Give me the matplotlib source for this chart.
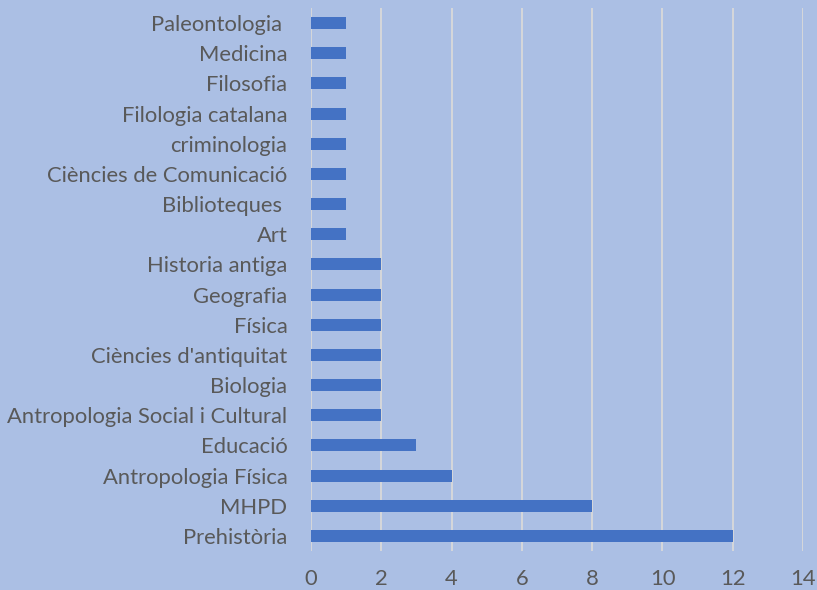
import matplotlib.pyplot as plt

# Dades (de baix a dalt)
categories = ["Prehistòria", "MHPD", "Antropologia Física", "Educació",
              "Antropologia Social i Cultural", "Biologia", "Ciències d'antiquitat",
              "Física", "Geografia", "Historia antiga", "Art", "Biblioteques ",
              "Ciències de Comunicació", "criminologia", "Filologia catalana",
              "Filosofia", "Medicina", "Paleontologia "]
valors = [12, 8, 4, 3, 2, 2, 2, 2, 2, 2, 1, 1, 1, 1, 1, 1, 1, 1]
xticks = [0, 2, 4, 6, 8, 10, 12, 14]

bg = "#ABBFE4"
text_color = "#595959"

plt.rcParams["font.family"] = ["Lato", "DejaVu Sans"]

fig = plt.figure(figsize=(8.17, 5.90), dpi=100, facecolor=bg)
ax = fig.add_axes([0.3807, 0.0661, 0.6022, 0.9203])
ax.set_facecolor(bg)

ax.barh(range(len(categories)), valors, height=0.4, color="#4472C4", zorder=3)

ax.set_xlim(0, 14)
ax.set_ylim(-0.5, len(categories) - 0.5)
ax.set_xticks(xticks)
ax.set_yticks(range(len(categories)))
ax.set_yticklabels(categories)
ax.xaxis.grid(True, color="#D9D9D9", linewidth=1.3, zorder=0)
ax.set_axisbelow(True)

for s in ax.spines.values():
    s.set_visible(False)
ax.tick_params(axis="both", length=0, labelsize=15.8, colors=text_color)
ax.tick_params(axis="x", pad=13)
ax.tick_params(axis="y", pad=17)

fig.savefig("out.png", dpi=100, facecolor=bg)
